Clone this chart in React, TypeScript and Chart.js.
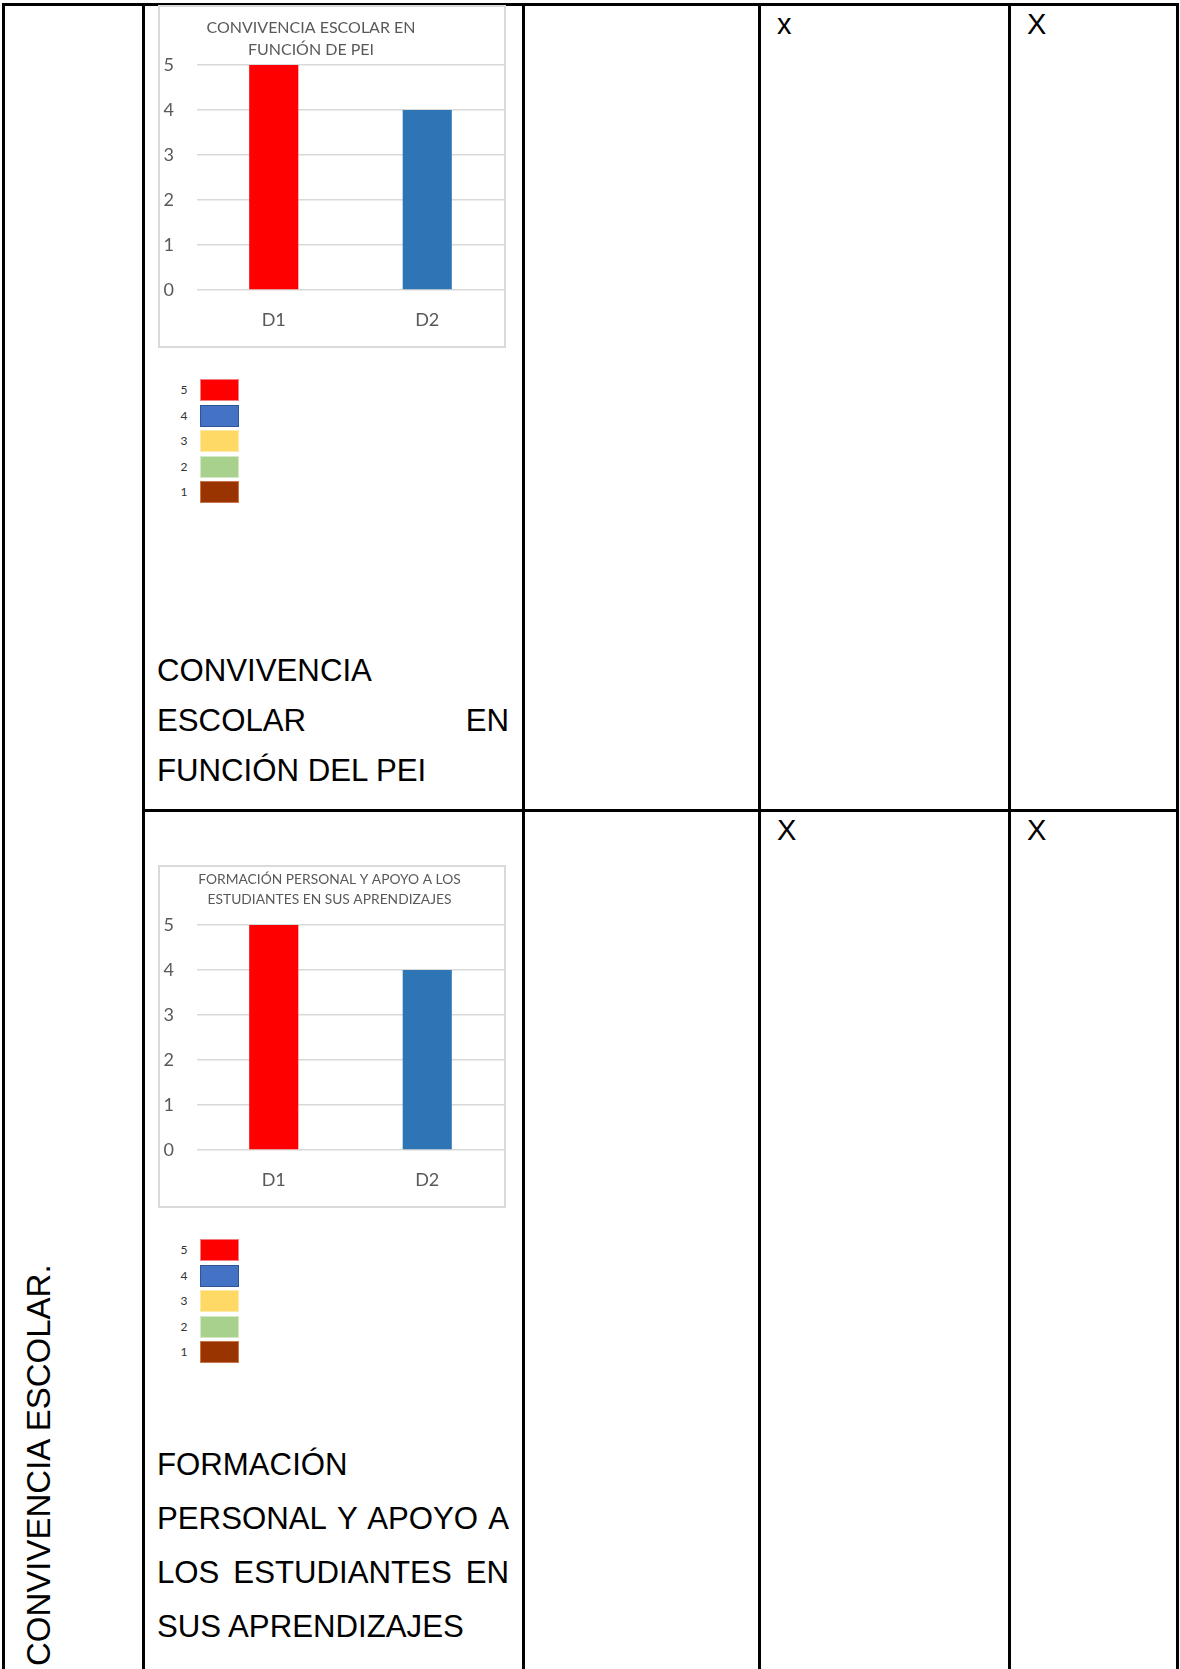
import React, { useEffect, useRef } from 'react';
import { Chart, registerables } from 'chart.js';

Chart.register(...registerables);

// ---------- data ----------
const categories = ['D1', 'D2'];
const chart1Values = [5, 4];
const chart2Values = [5, 4];
const barColors = ['#FF0000', '#2E75B6'];
const yMin = 0;
const yMax = 5;
const yStep = 1;
const chart1Title = ['CONVIVENCIA ESCOLAR EN', 'FUNCIÓN DE PEI'];
const chart2Title = ['FORMACIÓN PERSONAL Y APOYO A LOS', 'ESTUDIANTES EN SUS APRENDIZAJES'];
const legendLabels = ['5', '4', '3', '2', '1'];
const legendColors = ['#FF0000', '#4472C4', '#FFD966', '#A9D18E', '#993300'];
const legendBorders = ['#F08080', '#2F5597', '#FFE9A8', '#D3E8C4', '#C8764A'];
const row1Text = ['CONVIVENCIA', 'ESCOLAR EN', 'FUNCIÓN DEL PEI'];
const row2Text = ['FORMACIÓN', 'PERSONAL Y APOYO A', 'LOS ESTUDIANTES EN', 'SUS APRENDIZAJES'];
const row1Marks = ['x', 'X'];
const row2Marks = ['X', 'X'];
const sideLabel = 'CONVIVENCIA ESCOLAR.';

// ---------- layout ----------
const W = 1180;
const H = 1669;
const LINE = 3;
const COLS = [2, 142, 522, 758, 1008, 1176];
const TOP_Y = 3;
const ROW_Y = 809;
const CHART_W = 348;
const CHART_H = 343;
const GRAY = '#595959';
const FONT = '"Liberation Sans", Arial, sans-serif';

const boxTitle = {
  id: 'boxTitle',
  afterDraw(chart: any, _args: any, opts: any) {
    const ctx = chart.ctx;
    ctx.save();
    ctx.font = `${opts.size}px Lato`;
    ctx.fillStyle = opts.color;
    ctx.textAlign = 'center';
    ctx.textBaseline = 'middle';
    (opts.lines as string[]).forEach((l, i) => {
      ctx.fillText(l, opts.x, opts.y + i * opts.lineHeight);
    });
    ctx.restore();
  },
};

type BarProps = {
  left: number;
  top: number;
  values: number[];
  title: string[];
  titleX: number;
  titleY: number;
  titleSize: number;
  titleLineHeight: number;
};

function BarBox(p: BarProps) {
  const ref = useRef<HTMLCanvasElement | null>(null);
  useEffect(() => {
    if (!ref.current) return;
    const chart = new Chart(ref.current, {
      type: 'bar',
      data: {
        labels: categories,
        datasets: [
          {
            data: p.values,
            backgroundColor: barColors,
            borderWidth: 0,
            categoryPercentage: 0.8,
            barPercentage: 0.4,
          },
        ],
      },
      options: {
        animation: false,
        responsive: false,
        devicePixelRatio: window.devicePixelRatio || 1,
        layout: { padding: { left: 0, right: 2, top: 60, bottom: 0 } },
        plugins: {
          legend: { display: false },
          tooltip: { enabled: false },
          title: { display: false },
          boxTitle: {
            lines: p.title,
            x: p.titleX,
            y: p.titleY,
            size: p.titleSize,
            lineHeight: p.titleLineHeight,
            color: GRAY,
          },
        } as any,
        scales: {
          x: {
            grid: { display: false, drawTicks: false },
            border: { display: false },
            ticks: { font: { family: 'Lato', size: 18 }, color: GRAY, padding: 19 },
            afterFit: (s: any) => {
              s.height = 58;
            },
          },
          y: {
            min: yMin,
            max: yMax,
            ticks: { stepSize: yStep, font: { family: 'Lato', size: 18 }, color: GRAY, padding: 23 },
            grid: { color: '#D9D9D9', lineWidth: 1.5, drawTicks: false },
            border: { display: false },
            afterFit: (s: any) => {
              s.width = 39;
            },
          },
        },
      } as any,
      plugins: [boxTitle as any],
    });
    return () => chart.destroy();
  }, []);
  return (
    <>
      <div
        style={{
          position: 'absolute',
          left: p.left,
          top: p.top,
          width: CHART_W,
          height: CHART_H,
          boxSizing: 'border-box',
          border: '2px solid #DADADA',
          background: '#fff',
        }}
      />
      <canvas
        ref={ref}
        width={CHART_W}
        height={CHART_H}
        style={{ position: 'absolute', left: p.left, top: p.top, width: CHART_W, height: CHART_H }}
      />
    </>
  );
}

function Legend({ top }: { top: number }) {
  return (
    <>
      {legendLabels.map((lab, i) => (
        <React.Fragment key={lab}>
          <div
            style={{
              position: 'absolute',
              left: 176,
              top: top + i * 25.6,
              width: 16,
              height: 22,
              lineHeight: '22px',
              textAlign: 'center',
              fontFamily: 'Lato',
              fontSize: 12,
              color: '#333333',
            }}
          >
            {lab}
          </div>
          <div
            style={{
              position: 'absolute',
              left: 200,
              top: top + i * 25.6,
              width: 39,
              height: 22,
              boxSizing: 'border-box',
              background: legendColors[i],
              border: `1.5px solid ${legendBorders[i]}`,
            }}
          />
        </React.Fragment>
      ))}
    </>
  );
}

function CellText({ lines, top, lineHeight }: { lines: string[]; top: number; lineHeight: number }) {
  return (
    <>
      {lines.map((l, i) => (
        <div
          key={i}
          style={{
            position: 'absolute',
            left: 157,
            top: top + i * lineHeight,
            width: 352,
            height: lineHeight,
            lineHeight: `${lineHeight}px`,
            fontFamily: FONT,
            fontSize: 31.2,
            color: '#000',
            whiteSpace: 'nowrap',
            textAlign: 'left',
            textAlignLast: i < lines.length - 1 ? 'justify' : 'left',
          } as any}
        >
          {l}
        </div>
      ))}
    </>
  );
}

function Mark({ text, left, top }: { text: string; left: number; top: number }) {
  return (
    <div
      style={{
        position: 'absolute',
        left,
        top,
        lineHeight: '29px',
        fontSize: 29,
        fontFamily: FONT,
        color: '#000',
        whiteSpace: 'nowrap',
      }}
    >
      {text}
    </div>
  );
}

export default function App() {
  useEffect(() => {
    document.body.style.margin = '0';
  }, []);
  const vline = (x: number, y0: number, key: string) => (
    <div key={key} style={{ position: 'absolute', left: x, top: y0, width: LINE, height: H - y0, background: '#000' }} />
  );
  return (
    <div style={{ position: 'relative', width: W, height: H, overflow: 'hidden', background: '#fff' }}>
      {/* table borders */}
      <div style={{ position: 'absolute', left: COLS[0], top: TOP_Y, width: COLS[5] + LINE - COLS[0], height: LINE, background: '#000' }} />
      <div style={{ position: 'absolute', left: COLS[1], top: ROW_Y, width: COLS[5] + LINE - COLS[1], height: LINE, background: '#000' }} />
      {COLS.map((x, i) => vline(x, TOP_Y, 'c' + i))}

      {/* row 1 */}
      <BarBox left={158} top={5} values={chart1Values} title={chart1Title} titleX={153} titleY={23} titleSize={16} titleLineHeight={22} />
      <Legend top={379} />
      <CellText lines={row1Text} top={646} lineHeight={50} />
      <Mark text={row1Marks[0]} left={777} top={9.5} />
      <Mark text={row1Marks[1]} left={1027} top={9.5} />

      {/* row 2 */}
      <BarBox left={158} top={865} values={chart2Values} title={chart2Title} titleX={171.5} titleY={15} titleSize={13.8} titleLineHeight={20} />
      <Legend top={1239} />
      <CellText lines={row2Text} top={1438} lineHeight={54} />
      <Mark text={row2Marks[0]} left={777} top={815.5} />
      <Mark text={row2Marks[1]} left={1027} top={815.5} />

      {/* merged first column, rotated label */}
      <div
        style={{
          position: 'absolute',
          left: 21.5,
          top: 1666,
          lineHeight: '33px',
          fontSize: 33,
          fontFamily: FONT,
          color: '#000',
          whiteSpace: 'nowrap',
          transform: 'rotate(-90deg)',
          transformOrigin: '0 0',
        }}
      >
        {sideLabel}
      </div>
    </div>
  );
}
